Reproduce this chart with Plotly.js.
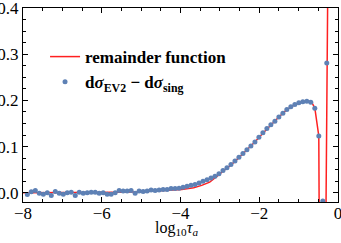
<!DOCTYPE html>
<html>
<head>
<meta charset="utf-8">
<script src="https://cdn.plot.ly/plotly-3.0.1.min.js"></script>
<style>html,body{margin:0;padding:0;background:#fff;}#chart{width:341px;height:243px;}</style>
</head>
<body>
<div id="chart"></div>
<script>
// Monte Carlo points: d sigma_EV2 - d sigma_sing
var mcX = [-7.890,-7.789,-7.687,-7.586,-7.484,-7.383,-7.282,-7.180,-7.079,-6.977,
           -6.876,-6.775,-6.673,-6.572,-6.470,-6.369,-6.268,-6.166,-6.065,-5.963,
           -5.862,-5.761,-5.659,-5.558,-5.456,-5.355,-5.254,-5.152,-5.051,-4.949,
           -4.848,-4.747,-4.645,-4.544,-4.442,-4.341,-4.240,-4.138,-4.037,-3.935,
           -3.834,-3.733,-3.631,-3.530,-3.428,-3.327,-3.226,-3.124,-3.023,-2.921,
           -2.820,-2.719,-2.617,-2.516,-2.414,-2.313,-2.212,-2.110,-2.009,-1.907,
           -1.806,-1.705,-1.603,-1.502,-1.400,-1.299,-1.198,-1.096,-0.995,-0.893,
           -0.792,-0.691,-0.589,-0.488,-0.386,-0.285];
var mcY = [-0.004,0.002,0.005,-0.001,-0.003,0.000,-0.006,0.003,-0.001,-0.003,
           0.000,0.001,-0.006,0.001,-0.001,0.000,0.001,0.001,-0.001,0.000,
           -0.003,-0.003,0.000,0.005,0.004,0.004,0.005,-0.001,0.004,0.003,
           0.004,0.006,0.005,0.006,0.007,0.007,0.009,0.009,0.010,0.012,
           0.014,0.016,0.018,0.021,0.025,0.028,0.032,0.036,0.041,0.048,
           0.054,0.061,0.069,0.077,0.085,0.093,0.101,0.110,0.120,0.130,
           0.139,0.147,0.155,0.164,0.172,0.180,0.186,0.191,0.195,0.197,
           0.198,0.196,0.183,0.123,-0.018,0.281];

// Remainder function curve
var remX = [-8.0,-7.017,-6.001,-5.493,-4.985,-4.477,-3.969,-3.665,-3.462,-3.259,-3.107,-3.005,-2.924,
            -2.721,-2.518,-2.315,-2.112,-1.908,-1.705,-1.502,-1.299,-1.096,-0.893,-0.74,
            -0.669,-0.588,-0.488,-0.463,-0.33,-0.285,-0.245];
var remY = [0.000,0.000,0.0005,0.001,0.002,0.004,0.007,0.011,0.016,0.023,0.032,0.040,0.047,
            0.060,0.076,0.092,0.110,0.129,0.147,0.164,0.180,0.191,0.197,0.198,
            0.196,0.183,0.123,-0.3,-0.3,0.281,0.6];

var xTickVals = [-8,-6,-4,-2,0];
var yTickVals = [0.0,0.1,0.2,0.3,0.4];
var xTitle = 'log<sub>10</sub><i>τ<sub>a</sub></i>';

var serif = "Liberation Serif, Times New Roman, serif";

var traces = [
  {x: remX, y: remY, type: 'scatter', mode: 'lines',
   name: '<b>remainder function</b>',
   line: {color: '#ff2020', width: 1.5}},
  {x: mcX, y: mcY, type: 'scatter', mode: 'markers',
   name: '<b>d<i>σ</i><sub>EV2</sub> − d<i>σ</i><sub>sing</sub></b>',
   marker: {color: 'rgb(94,129,181)', size: 5}}
];

var axisCommon = {
  showline: true, linecolor: '#000', linewidth: 1, mirror: 'allticks',
  ticks: 'inside', ticklen: 5, tickwidth: 1, tickcolor: '#000',
  showgrid: false, zeroline: false, ticklabeloverflow: 'allow',
  tickfont: {family: serif, size: 17, color: '#000'}
};

var layout = {
  width: 341, height: 243,
  margin: {l: 23, r: 3, t: 8, b: 41},
  paper_bgcolor: '#fff', plot_bgcolor: '#fff',
  showlegend: true,
  legend: {x: 0.07, y: 0.84, xanchor: 'left', yanchor: 'top',
           bgcolor: 'rgba(0,0,0,0)', borderwidth: 0,
           font: {family: serif, size: 17, color: '#000'},
           traceorder: 'normal', tracegroupgap: 3},
  xaxis: Object.assign({}, axisCommon, {
    range: [-8, 0], tickvals: xTickVals,
    ticktext: xTickVals.map(function(v){return v < 0 ? '\u2212' + Math.abs(v) : String(v);}),
    ticklabelstandoff: -4,
    minor: {dtick: 0.5, tick0: 0, ticks: 'inside', ticklen: 3, tickcolor: '#000', showgrid: false}
  }),
  yaxis: Object.assign({}, axisCommon, {
    range: [-0.02, 0.4], tickvals: yTickVals,
    ticktext: yTickVals.map(function(v){return v.toFixed(1);}),
    minor: {dtick: 0.025, tick0: 0, ticks: 'inside', ticklen: 3, tickcolor: '#000', showgrid: false}
  }),
  annotations: [{
    text: xTitle, xref: 'paper', yref: 'paper', x: 0.486, y: -0.135,
    xanchor: 'center', yanchor: 'middle', showarrow: false,
    font: {family: serif, size: 16, color: '#000'}
  }]
};

Plotly.newPlot('chart', traces, layout, {staticPlot: true, displayModeBar: false});
</script>
</body>
</html>
